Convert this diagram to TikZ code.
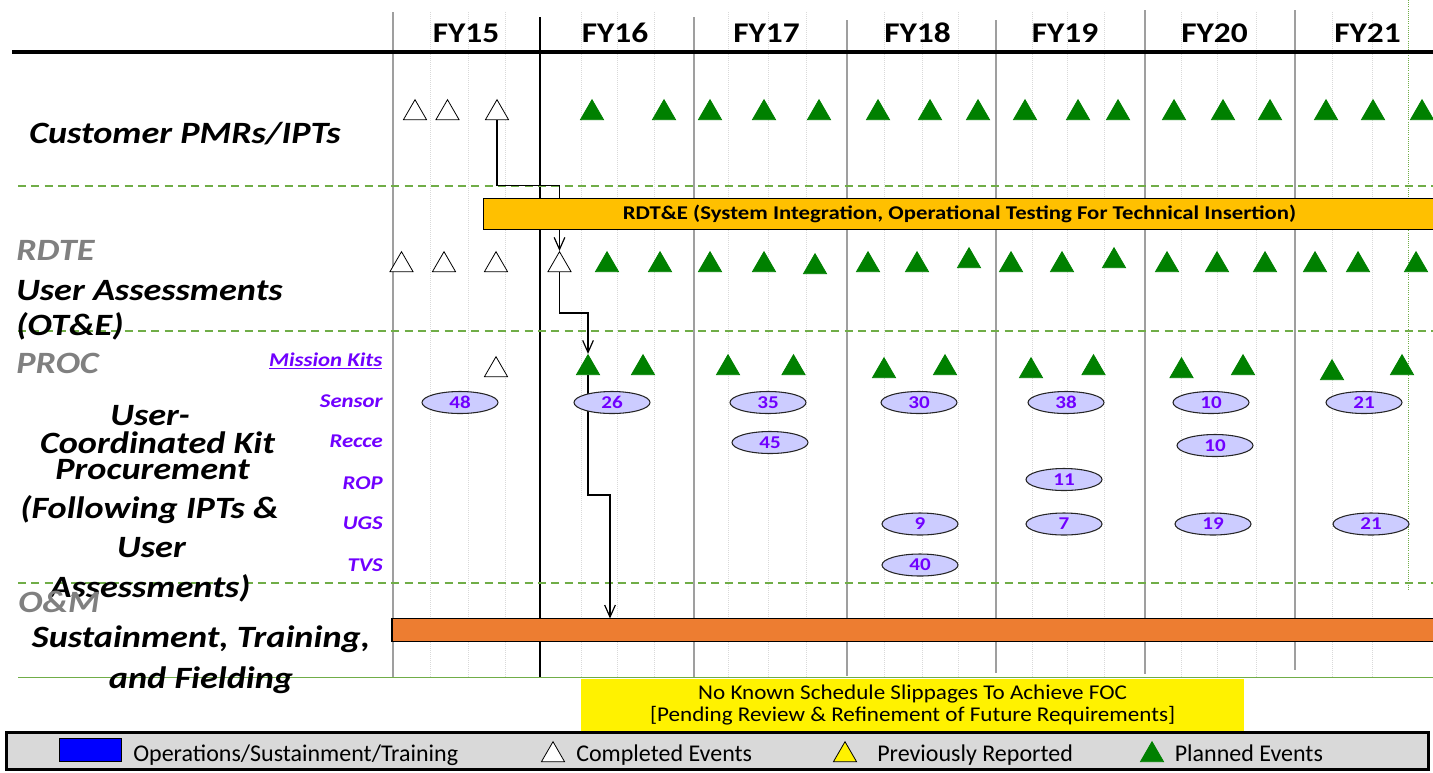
\documentclass[tikz,border=0pt]{standalone}
\usepackage{fontspec}
\setmainfont{Carlito}
\newfontfamily\lblfont[FakeStretch=1.17]{Carlito}
\newfontfamily\notefont[FakeStretch=1.1]{Carlito}
\usetikzlibrary{shapes.geometric,arrows.meta,positioning}
\pgfdeclarelayer{back}
\pgfsetlayers{back,main}
\definecolor{plangreen}{RGB}{0,128,0}
\definecolor{rdtefill}{RGB}{255,192,0}
\definecolor{omfill}{RGB}{237,125,49}
\definecolor{kitpurple}{RGB}{112,0,255}
\definecolor{kitfill}{RGB}{204,204,255}
\definecolor{sepgreen}{RGB}{112,173,71}
\definecolor{legfill}{RGB}{217,217,217}

\begin{document}
\begin{tikzpicture}[x=0.75pt,y=-0.75pt,
 evt/.style={regular polygon,regular polygon sides=3,minimum size=20pt,inner sep=0pt,line width=0.6pt},
 done/.style={evt,draw=black,fill=white},
 plan/.style={evt,draw=plangreen,fill=plangreen},
 prev/.style={evt,draw=black,fill=yellow},
 qty/.style={ellipse,draw=black!85,line width=0.8pt,fill=kitfill,text=kitpurple,minimum width=57pt,minimum height=16.5pt,inner sep=0pt,font=\lblfont\bfseries\fontsize{13.5}{14}\selectfont},
 kitrow/.style={anchor=base east,inner sep=0pt,text=kitpurple,font=\lblfont\bfseries\itshape\fontsize{14.6}{16}\selectfont},
 lane/.style={inner sep=0pt,font=\lblfont\bfseries\itshape\fontsize{23.25}{26}\selectfont},
 phase/.style={lane,anchor=base west,text=gray},
 fy/.style={anchor=base,inner sep=0pt,font=\lblfont\bfseries\fontsize{21.4}{24}\selectfont},
 bar/.style={draw=black,line width=0.9pt,inner sep=0pt,outer sep=0pt,anchor=north west},
 flow/.style={-{Straight Barb[length=9pt,width=8pt]},line width=0.9pt},
 yr/.style={gray!75,line width=0.9pt},
 qtr/.style={gray!30,densely dotted,line width=0.5pt},
 sep/.style={sepgreen,dash pattern=on 6pt off 4pt,line width=0.8pt},
 legtxt/.style={anchor=base west,inner sep=0pt,font=\fontsize{18}{20}\selectfont}]
\useasboundingbox (0,0) rectangle (1433,772);
\clip (0,0) rectangle (1433,772);

\foreach \x/\t [count=\i] in {466/FY15,615/FY16,766.5/FY17,917.5/FY18,1065/FY19,1214.5/FY20,1367.5/FY21}
 \node[fy] (fy\i) at (\x,42) {\t};

\node[lane,anchor=base] (pmrlbl) at (185,143.5) {Customer PMRs/IPTs};
\node[phase] (rdtelbl) at (16,260) {RDTE};
\node[lane,anchor=base west] (ualbl) at (16,300) {User Assessments};
\node[lane,anchor=base west] (otelbl) at (16,335) {(OT\&E)};
\node[phase] (proclbl) at (16,373) {PROC};
\foreach \x/\y/\t [count=\i] in {150/425/User-,157.5/453/Coordinated Kit,152.5/479/Procurement,149.5/518/(Following IPTs \&,151.5/557/User,150/597/Assessments)}
 \node[lane,anchor=base] (kitlbl\i) at (\x,\y) {\t};
\node[phase] (omlbl) at (18,612) {O\&M};
\node[lane,anchor=base] (sustlbl) at (201,647) {Sustainment, Training,};
\node[lane,anchor=base] (fieldlbl) at (201,688) {and Fielding};

\node[kitrow] (mklbl) at (382.5,366) {\underline{Mission Kits}};
\foreach \t/\y in {Sensor/407,Recce/447,ROP/489,UGS/529,TVS/571}
 \node[kitrow] (row\t) at (383,\y) {\t};

\node[bar,fill=rdtefill,minimum width=714pt,minimum height=23pt,font=\lblfont\bfseries\fontsize{14.6}{16}\selectfont] (rdte) at (483.5,198.5) {RDT\&E (System Integration, Operational Testing For Technical Insertion)};
\node[bar,fill=omfill,minimum width=784pt,minimum height=17pt] (om) at (392,618.5) {};

\foreach \x [count=\i] in {415,447.5,497}
 \node[done] (pmrd\i) at (\x,113) {};
\foreach \x [count=\i] in {592,664,710,764,819,878,930,978,1025,1078,1118,1174,1223,1270,1326,1373,1422}
 \node[plan] (pmrp\i) at (\x,113) {};
\foreach \x [count=\i] in {401.5,444,496,559.5}
 \node[done] (uad\i) at (\x,265) {};
\foreach \x/\y [count=\i] in {607/265,660/265,710/265,764/265,815/267,868/265,917/265,969/261,1011/265,1062/265,1114/261,1167/265,1217/265,1265/265,1315/265,1358/265,1416/265}
 \node[plan] (uap\i) at (\x,\y) {};
\node[done] (mkd1) at (496,370) {};
\foreach \x/\y [count=\i] in {588/368,643/368,728/368,793.5/368,884/371,945/368,1031/371,1093.5/368,1181.5/371,1243/368,1332/373,1402/368}
 \node[plan] (mkp\i) at (\x,\y) {};

\foreach \x/\y/\n [count=\i] in {460/402.5/48,612/402.5/26,768/402.5/35,919/402.5/30,1066/402.5/38,1211/402.5/10,1364/402.5/21,770/442.5/45,1215/445.5/10,1064/479.5/11,920/524/9,1064/524/7,1213/524/19,1371/524/21,920/565/40}
 \node[qty] (qty\i) at (\x,\y) {\n};

\node[anchor=north west,fill=yellow,minimum width=497pt,minimum height=39pt,inner sep=0pt,align=center,font=\notefont\fontsize{15.75}{16.7}\selectfont] (slip) at (581,679) {No Known Schedule Slippages To Achieve FOC\\{[Pending} Review \& Refinement of Future Requirements]};

\node[anchor=north west,draw=black,line width=2.25pt,fill=legfill,minimum width=1066.5pt,minimum height=27.75pt,inner sep=0pt,outer sep=0pt] (legend) at (6.5,732.5) {};
\node[anchor=north west,draw=black,fill=blue,line width=0.8pt,minimum width=46.5pt,minimum height=17.25pt,inner sep=0pt] (lgops) at (59,738) {};
\node[legtxt] (lgopst) at (133,761) {Operations/Sustainment/Training};
\node[done] (lgdone) at (553,755) {};
\node[legtxt] (lgdonet) at (576,761) {Completed Events};
\node[prev] (lgprev) at (845,755) {};
\node[legtxt] (lgprevt) at (877,761) {Previously Reported};
\node[plan] (lgplan) at (1152,755) {};
\node[legtxt] (lgplant) at (1174.5,761) {Planned Events};

\coordinate (k1) at (560,185.5);
\coordinate (k2) at (588,313);
\coordinate (k3) at (610,495);

\begin{pgfonlayer}{back}
\foreach \x in {430,468,505,581,617,654,728,768,806,884,922,958,1032,1067,1104,1181,1217,1256,1332,1372}
 \draw[qtr] (\x,12) -- (\x,678);
\draw[sepgreen,densely dotted,line width=0.6pt] (1408,0) -- (1408,590);
\foreach \x/\a/\b in {393/12/678,694/17/678,847/20/676,996/20/673,1145/10/674,1295/10/670}
 \draw[yr] (\x,\a) -- (\x,\b);
\draw[black,line width=0.9pt] (540,17) -- (540,678);
\draw[line width=2.5pt] (12,52) -- (1433,52);
\foreach \y in {186,331,583}
 \draw[sep] (18,\y) -- (1433,\y);
\draw[sepgreen,line width=0.8pt] (18,677.5) -- (1433,677.5);
\draw[flow] (pmrd3.south) |- (uad4.north |- k1) -- (uad4.north);
\draw[flow] (uad4.south) |- (mkp1.north |- k2) -- (mkp1.north);
\draw[flow] (mkp1.south) |- (k3) -- (k3 |- om.north);
\end{pgfonlayer}
\end{tikzpicture}
\end{document}
